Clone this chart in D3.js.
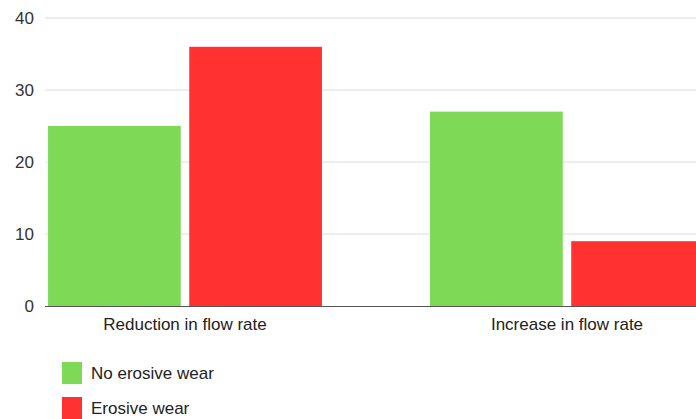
<!DOCTYPE html>
<html>
<head>
<meta charset="utf-8">
<script src="https://cdn.jsdelivr.net/npm/d3@7"></script>
<style>
  html, body { margin: 0; padding: 0; background: #fff; }
  svg { display: block; font-family: "Liberation Sans", Arial, sans-serif; }
</style>
</head>
<body>
<svg id="chart" width="696" height="419"></svg>
<script>
// Flow-rate change by erosive wear status
const categories = ["Reduction in flow rate", "Increase in flow rate"];
const seriesNames = ["No erosive wear", "Erosive wear"];
const noErosiveWear = [25, 27];
const erosiveWear = [36, 9];
const yTicks = [0, 10, 20, 30, 40];
const colors = ["#7ed957", "#ff3131"];

const svg = d3.select("#chart");

const y = d3.scaleLinear().domain([0, 40]).range([306, 18]);
const x = d3.scaleBand().domain(categories).range([45, 707])
  .paddingInner(0.283).paddingOuter(0.008);
const xs = d3.scaleBand().domain(seriesNames).range([0, x.bandwidth()])
  .paddingInner(0.06);

// gridlines and y labels
const yAxis = d3.axisLeft(y).tickValues(yTicks).tickSize(0).tickPadding(11);
const yg = svg.append("g").attr("transform", "translate(45,0)").call(yAxis);
yg.select(".domain").remove();
yg.selectAll("text").attr("font-size", 17).attr("fill", "#333")
  .attr("font-family", "Liberation Sans, Arial, sans-serif");

svg.append("g").selectAll("line")
  .data(yTicks.filter(d => d > 0))
  .join("line")
  .attr("x1", 45).attr("x2", 696)
  .attr("y1", d => y(d)).attr("y2", d => y(d))
  .attr("stroke", "#dcdcdc").attr("stroke-width", 1);

// bars
const rows = categories.map((c, i) => ({
  category: c,
  values: [noErosiveWear[i], erosiveWear[i]]
}));

const groups = svg.append("g").selectAll("g")
  .data(rows)
  .join("g")
  .attr("transform", d => `translate(${x(d.category)},0)`);

groups.selectAll("rect")
  .data(d => d.values.map((v, j) => ({ name: seriesNames[j], value: v, color: colors[j] })))
  .join("rect")
  .attr("x", d => xs(d.name))
  .attr("y", d => y(d.value))
  .attr("width", xs.bandwidth())
  .attr("height", d => y(0) - y(d.value))
  .attr("fill", d => d.color);

// baseline
svg.append("line")
  .attr("x1", 45).attr("x2", 696)
  .attr("y1", y(0) + 0.5).attr("y2", y(0) + 0.5)
  .attr("stroke", "#555").attr("stroke-width", 1);

// category labels
const xAxis = d3.axisBottom(x).tickSize(0).tickPadding(12);
const xg = svg.append("g").attr("transform", `translate(0,${y(0)})`).call(xAxis);
xg.select(".domain").remove();
xg.selectAll("text").attr("font-size", 17).attr("fill", "#222")
  .attr("font-family", "Liberation Sans, Arial, sans-serif");

// legend
const legend = svg.append("g").selectAll("g")
  .data(seriesNames)
  .join("g")
  .attr("transform", (d, i) => `translate(62,${362 + i * 35})`);
legend.append("rect").attr("width", 20).attr("height", 22)
  .attr("fill", (d, i) => colors[i]);
legend.append("text").attr("x", 29).attr("y", 17)
  .attr("font-size", 17).attr("fill", "#222")
  .text(d => d);
</script>
</body>
</html>
